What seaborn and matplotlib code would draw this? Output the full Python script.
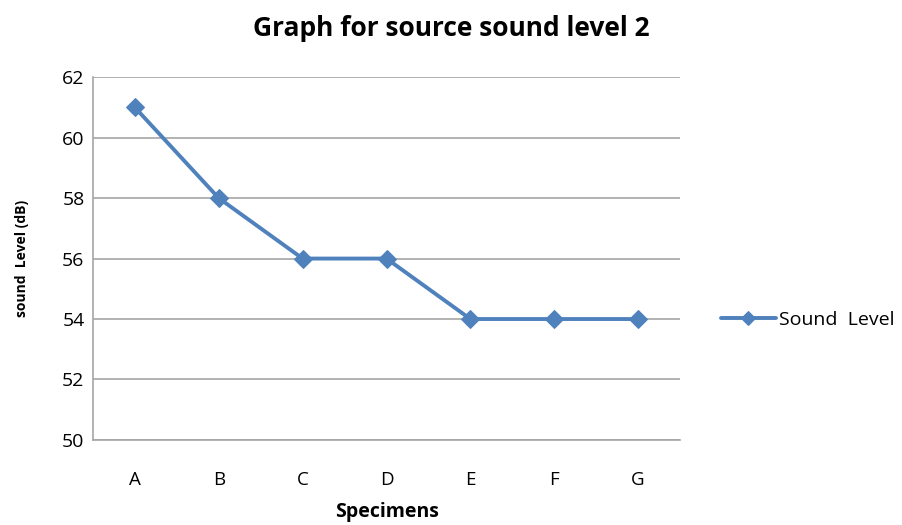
import matplotlib.pyplot as plt
import seaborn as sns
import pandas as pd

specimens = ["A", "B", "C", "D", "E", "F", "G"]
sound_level = [61, 58, 56, 56, 54, 54, 54]
y_ticks = [50, 52, 54, 56, 58, 60, 62]

sns.set_style("white")
plt.rcParams["font.family"] = ["Open Sans", "DejaVu Sans"]
plt.rcParams["text.color"] = "black"
plt.rcParams["xtick.color"] = "black"
plt.rcParams["ytick.color"] = "black"
plt.rcParams["axes.labelcolor"] = "black"

df = pd.DataFrame({"Specimen": specimens, "Sound  Level": sound_level})

fig = plt.figure(figsize=(9.02, 5.25), dpi=100)
ax = fig.add_axes([0.103, 0.162, 0.651, 0.691])

sns.lineplot(data=df, x="Specimen", y="Sound  Level", ax=ax,
             color="#4F81BD", lw=2.8, marker="D", markersize=9,
             markeredgecolor="#4F81BD", label="Sound  Level", sort=False)

ax.set_xlim(-0.5, len(specimens) - 0.5)
ax.set_ylim(50, 62)
ax.set_yticks(y_ticks)
ax.yaxis.grid(True, color="#A6A6A6", lw=1.2)
ax.set_axisbelow(True)
for s in ["top", "right"]:
    ax.spines[s].set_visible(False)
ax.spines["bottom"].set_color("#A6A6A6")
ax.spines["bottom"].set_linewidth(1.2)
ax.spines["left"].set_color("#A6A6A6")
ax.spines["left"].set_linewidth(1.2)
ax.tick_params(axis="y", length=5, color="#A6A6A6", width=1.2,
               labelsize=14, pad=1)
ax.tick_params(axis="x", length=0, labelsize=13.5, pad=22)

fig.text(0.5, 0.945, "Graph for source sound level 2", fontsize=19,
         fontweight="bold", ha="center", va="center")
ax.set_xlabel("Specimens", fontsize=14, fontweight="bold", labelpad=10)
ax.set_ylabel("sound  Level (dB)", fontsize=10, fontweight="bold", labelpad=24)

leg = ax.legend(loc="center left", bbox_to_anchor=(1.04, 0.33), frameon=False,
                fontsize=14, handlelength=2.8, handletextpad=0.2)
for h in leg.get_lines():
    h.set_markersize(7)

fig.savefig("out.png", dpi=100)
